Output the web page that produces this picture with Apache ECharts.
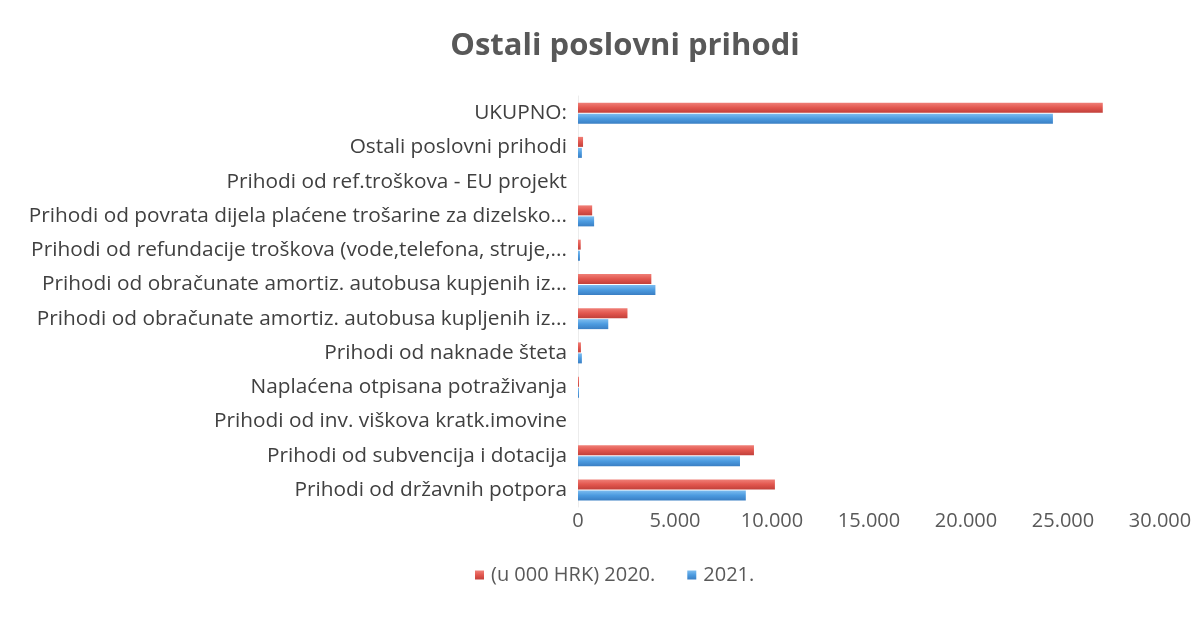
<!DOCTYPE html>
<html>
<head>
<meta charset="utf-8">
<script src="https://cdn.jsdelivr.net/npm/echarts@6/dist/echarts.min.js"></script>
<style>
html,body{margin:0;padding:0;background:#fff;}
#c{width:1195px;height:623px;}
</style>
</head>
<body>
<div id="c"></div>
<script>
// Categories, bottom to top
const categories = [
  "Prihodi od državnih potpora",
  "Prihodi od subvencija i dotacija",
  "Prihodi od inv. viškova kratk.imovine",
  "Naplaćena otpisana potraživanja",
  "Prihodi od naknade šteta",
  "Prihodi od obračunate amortiz. autobusa kupljenih iz...",
  "Prihodi od obračunate amortiz. autobusa kupjenih iz...",
  "Prihodi od refundacije troškova (vode,telefona, struje,...",
  "Prihodi od povrata dijela plaćene trošarine za dizelsko...",
  "Prihodi od ref.troškova - EU projekt",
  "Ostali poslovni prihodi",
  "UKUPNO:"
];
const seriesNames = ["(u 000 HRK) 2020.", "2021."];
const values2020 = [10150, 9070, 0, 50, 150, 2550, 3780, 140, 730, 0, 260, 27050];
const values2021 = [8650, 8350, 0, 50, 200, 1560, 3990, 100, 830, 0, 200, 24480];
const xTicks = { min: 0, max: 30000, interval: 5000 };

function fmt(v){ return v === 0 ? "0" : String(v).replace(/\B(?=(\d{3})+(?!\d))/g, "."); }

const chart = echarts.init(document.getElementById('c'), null, {renderer:'canvas'});
const redGrad = new echarts.graphic.LinearGradient(0,0,0,1,[
  {offset:0,color:'#F08078'},{offset:0.5,color:'#E2574F'},{offset:1,color:'#C2403A'}]);
const blueGrad = new echarts.graphic.LinearGradient(0,0,0,1,[
  {offset:0,color:'#7DBDF0'},{offset:0.5,color:'#4C9BE0'},{offset:1,color:'#3A7FC4'}]);
chart.setOption({
  animation:false,
  backgroundColor:'#ffffff',
  title:{
    text:'Ostali poslovni prihodi',
    left:620, top:26, textAlign:'center',
    textStyle:{fontFamily:'Open Sans', fontWeight:'bold', fontSize:31, color:'#585858'}
  },
  legend:{
    data:seriesNames,
    left:470, top:560,
    itemWidth:9, itemHeight:9, itemGap:32,
    icon:'rect',
    textStyle:{fontFamily:'Open Sans', fontSize:20, color:'#595959', padding:[0,0,0,2]}
  },
  grid:{left:578, right:35, top:96, bottom:116, containLabel:false},
  xAxis:{
    type:'value', min:xTicks.min, max:xTicks.max, interval:xTicks.interval,
    axisLine:{show:false}, axisTick:{show:false},
    splitLine:{show:false},
    axisLabel:{formatter:fmt, fontFamily:'Open Sans', fontSize:20, color:'#595959', margin:4}
  },
  yAxis:{
    type:'category', data:categories,
    axisLine:{show:true, lineStyle:{color:'#ececec'}}, axisTick:{show:false},
    axisLabel:{fontFamily:'Open Sans', fontSize:20.8, color:'#404040', margin:11}
  },
  series:[
    {name:seriesNames[0], type:'bar', data:values2020, barWidth:10, barGap:'10%',
     itemStyle:{color:redGrad}},
    {name:seriesNames[1], type:'bar', data:values2021, barWidth:10,
     itemStyle:{color:blueGrad}}
  ]
});
</script>
</body>
</html>
